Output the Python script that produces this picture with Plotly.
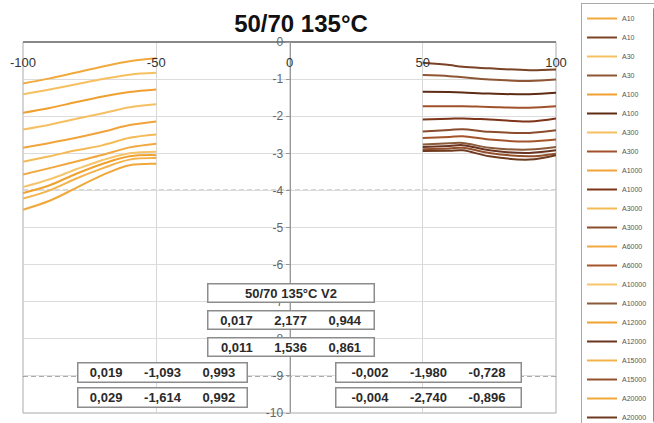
import plotly.graph_objects as go

# ---------------- data ----------------
names = ["A10", "A30", "A100", "A300", "A1000", "A3000",
         "A6000", "A10000", "A12000", "A15000", "A20000"]

x_left = [-100, -90, -80, -70, -60, -50]
left_vals = [
    [-1.12, -0.98, -0.82, -0.66, -0.52, -0.44],
    [-1.41, -1.28, -1.14, -1.00, -0.88, -0.83],
    [-1.91, -1.78, -1.62, -1.47, -1.35, -1.28],
    [-2.36, -2.23, -2.07, -1.92, -1.76, -1.68],
    [-2.85, -2.72, -2.58, -2.42, -2.24, -2.14],
    [-3.23, -3.08, -2.92, -2.78, -2.58, -2.49],
    [-3.57, -3.40, -3.22, -3.04, -2.84, -2.74],
    [-3.91, -3.70, -3.43, -3.18, -3.00, -2.96],
    [-4.07, -3.86, -3.55, -3.28, -3.08, -3.05],
    [-4.22, -4.00, -3.68, -3.40, -3.17, -3.13],
    [-4.52, -4.28, -3.93, -3.58, -3.32, -3.28],
]

x_right = [50, 60, 65, 75, 90, 100]
right_vals = [
    [-0.56, -0.62, -0.67, -0.71, -0.76, -0.74],
    [-0.89, -0.92, -0.95, -1.01, -1.05, -1.01],
    [-1.34, -1.35, -1.36, -1.39, -1.41, -1.37],
    [-1.73, -1.73, -1.73, -1.75, -1.77, -1.73],
    [-2.09, -2.07, -2.06, -2.09, -2.14, -2.06],
    [-2.41, -2.37, -2.35, -2.42, -2.45, -2.38],
    [-2.59, -2.56, -2.54, -2.63, -2.68, -2.63],
    [-2.76, -2.73, -2.72, -2.85, -2.90, -2.83],
    [-2.83, -2.80, -2.78, -2.92, -2.99, -2.92],
    [-2.89, -2.87, -2.85, -2.99, -3.08, -3.01],
    [-2.94, -2.93, -2.92, -3.08, -3.17, -3.05],
]

x_ticks = [-100, -50, 0, 50, 100]
x_tick_labels = ["-100", "-50", "0", "50", "100"]
y_ticks = [0, -1, -2, -3, -4, -5, -6, -7, -8, -9, -10]
y_tick_labels = ["0", "-1", "-2", "-3", "-4", "-5", "-6", "-7", "-8", "-9", "-10"]

title_text = "50/70 135°C"
box_title = "50/70 135°C V2"
rows_center = [["0,017", "2,177", "0,944"], ["0,011", "1,536", "0,861"]]
rows_left = [["0,019", "-1,093", "0,993"], ["0,029", "-1,614", "0,992"]]
rows_right = [["-0,002", "-1,980", "-0,728"], ["-0,004", "-2,740", "-0,896"]]

# ---------------- styles ----------------
orange_colors = ["#F2A93C", "#F6C060", "#F0A030", "#F5BF62", "#F0A43A", "#F4BA55",
                 "#F1A840", "#F6C46A", "#EFA22E", "#F3B24A", "#F0A83A"]
brown_colors = ["#7A4226", "#8E5634", "#5E2C14", "#A0502A", "#7E3418", "#8A4C2C",
                "#A4542A", "#8A5A3A", "#6A3420", "#94502C", "#6E3A20"]

fig = go.Figure()
for i, nm in enumerate(names):
    fig.add_trace(go.Scatter(x=x_left, y=left_vals[i], mode="lines", name=nm,
                             line=dict(color=orange_colors[i], width=2, shape="spline")))
    fig.add_trace(go.Scatter(x=x_right, y=right_vals[i], mode="lines", name=nm,
                             line=dict(color=brown_colors[i], width=2, shape="spline")))

FONT = "Liberation Sans, Arial, sans-serif"

fig.update_layout(
    width=654, height=423,
    margin=dict(l=23, r=98, t=42, b=10),
    paper_bgcolor="white", plot_bgcolor="white",
    font=dict(family=FONT),
    title=dict(text="<b>" + title_text + "</b>", x=301 / 654, xanchor="center",
               xref="container", y=1 - 24 / 423, yref="container", yanchor="middle",
               font=dict(size=24, color="#111", family=FONT)),
    showlegend=True,
    legend=dict(x=581 / 654, xref="container", xanchor="left",
                y=1 - 3 / 423, yref="container", yanchor="top",
                maxheight=423,
                bordercolor="#aaaaaa", borderwidth=1, bgcolor="white",
                font=dict(size=7, color="#555", family=FONT),
                tracegroupgap=0),
    xaxis=dict(range=[-100, 100], side="bottom", anchor="free", position=1,
               tickvals=x_ticks, ticktext=x_tick_labels,
               ticks="", ticklabelstandoff=8, automargin=False,
               tickfont=dict(size=13, color="#333", family=FONT),
               showgrid=True, gridcolor="#d6d6d6", gridwidth=1,
               zeroline=False, showline=True, linecolor="#888", linewidth=2),
    yaxis=dict(range=[-10, 0], anchor="free", position=0.5, side="left",
               tickvals=y_ticks, ticktext=y_tick_labels, automargin=False,
               ticks="outside", ticklen=4, tickcolor="#999",
               tickfont=dict(size=12, color="#666", family=FONT),
               showgrid=True, gridcolor="#dcdcdc", gridwidth=1,
               zeroline=False, showline=True, linecolor="#999", linewidth=1),
)

# plot frame and darker dashed reference lines
fig.add_shape(type="rect", xref="paper", yref="paper", x0=0, x1=1, y0=0, y1=1,
              line=dict(color="#aaaaaa", width=1), layer="below")
for yv in [-4, -9]:
    fig.add_shape(type="line", xref="paper", yref="y", x0=0, x1=1, y0=yv, y1=yv,
                  line=dict(color="#5a5a5a", width=1.2, dash="5px,3px"), layer="between")

SP = "\u00a0" * 6


def add_box(text, xc, yc, w, h):
    fig.add_annotation(text="<b>" + text + "</b>", xref="paper", yref="paper",
                       x=xc, y=yc, xanchor="center", yanchor="middle",
                       showarrow=False, width=w, height=h,
                       bgcolor="white", bordercolor="#8c8c8c", borderwidth=1.5, borderpad=1,
                       font=dict(size=13, color="#2a2a2a", family=FONT))


add_box(box_title, 0.503, 0.323, 163, 15)
cy = [0.252, 0.178]
for r, yc in zip(rows_center, cy):
    add_box(SP.join(r), 0.503, yc, 163, 15)
ly = [0.108, 0.043]
for r, yc in zip(rows_left, ly):
    add_box(SP.join(r), 0.262, yc, 166, 16)
for r, yc in zip(rows_right, ly):
    add_box(SP.join(r), 0.761, yc, 182, 16)

fig.write_html("out.html")
